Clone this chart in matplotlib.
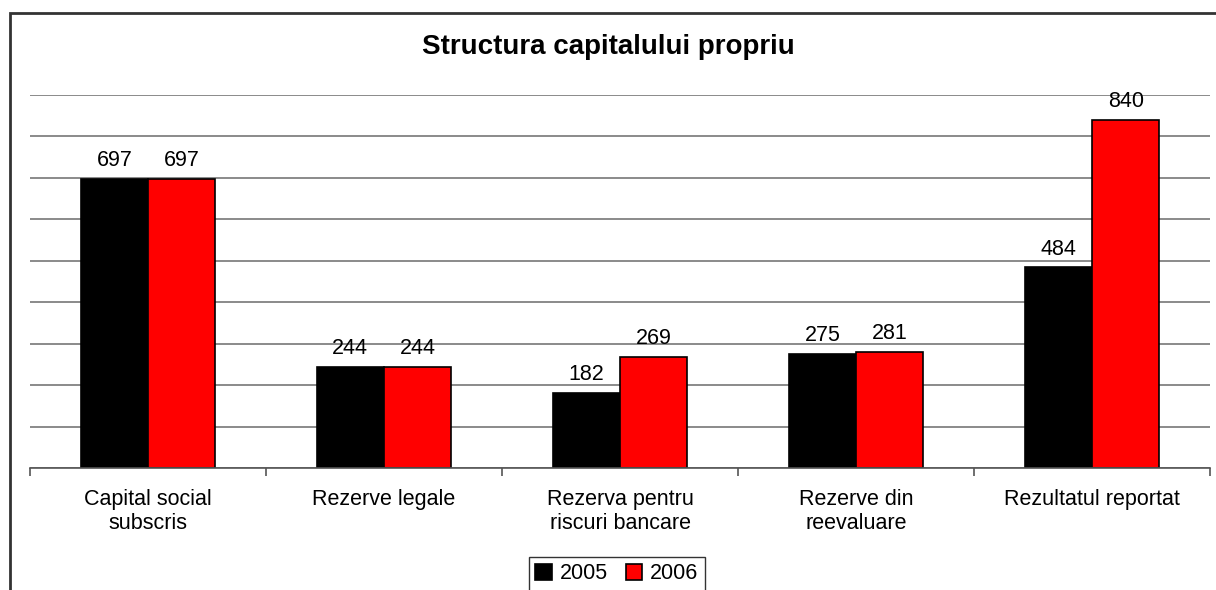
import matplotlib
matplotlib.use("Agg")
import matplotlib.pyplot as plt
from matplotlib.patches import Rectangle
import numpy as np

plt.rcParams['font.family'] = ['Liberation Sans', 'DejaVu Sans']

categories = ["Capital social\nsubscris", "Rezerve legale", "Rezerva pentru\nriscuri bancare",
              "Rezerve din\nreevaluare", "Rezultatul reportat"]
series_names = ["2005", "2006"]
values_2005 = [697, 244, 182, 275, 484]
values_2006 = [697, 244, 269, 281, 840]
colors = ["#000000", "#FF0000"]

W, H = 1216, 590
fig = plt.figure(figsize=(W / 100, H / 100), dpi=100)
ax = fig.add_axes([30 / W, 1 - 468 / H, (1210 - 30) / W, (468 - 95) / H])

x = np.arange(len(categories))
bw = 0.285
b1 = ax.bar(x - bw / 2, values_2005, bw, color=colors[0], edgecolor="black", linewidth=1.2,
            label=series_names[0], zorder=3)
b2 = ax.bar(x + bw / 2, values_2006, bw, color=colors[1], edgecolor="black", linewidth=1.2,
            label=series_names[1], zorder=3)
for bars in (b1, b2):
    for r in bars:
        ax.annotate(f"{int(r.get_height())}", (r.get_x() + r.get_width() / 2, r.get_height()),
                    xytext=(0, 5.5), textcoords="offset points", ha="center", va="bottom",
                    fontsize=15.5, color="black")

ax.set_xlim(-0.5, len(categories) - 0.5)
ax.set_ylim(0, 900)
ax.set_yticks(np.arange(0, 901, 100))
ax.yaxis.grid(True, color="#777777", linewidth=1.2, zorder=0)
ax.tick_params(axis="y", left=False, labelleft=False)
for s in ("left", "right", "top"):
    ax.spines[s].set_visible(False)
ax.spines["bottom"].set_color("#555555")
ax.spines["bottom"].set_linewidth(1.2)
ax.spines["bottom"].set_zorder(4)

ax.set_xticks(x)
ax.set_xticklabels(categories, fontsize=15.5, linespacing=1.2)
ax.tick_params(axis="x", length=0, pad=15)
ax.set_xticks(np.arange(-0.5, len(categories), 1), minor=True)
ax.tick_params(axis="x", which="minor", length=6, width=1.2, color="#555555", direction="out")

fig.text(0.5, 1 - 47 / H, "Structura capitalului propriu", ha="center", va="center",
         fontsize=20, fontweight="bold")

leg = fig.legend(loc="upper center", bbox_to_anchor=(617 / W, 1 - 557 / H), ncol=2,
                 fontsize=15.5, frameon=True, fancybox=False, edgecolor="black",
                 handlelength=0.75, handleheight=0.75, handletextpad=0.4, columnspacing=0.8,
                 borderpad=0.3, borderaxespad=0)
leg.get_frame().set_linewidth(1.0)

fig.add_artist(Rectangle((10 / W, -0.05), 1.1, 1 - 13 / H + 0.05, transform=fig.transFigure,
                         fill=False, edgecolor="#333333", linewidth=2, clip_on=False))

fig.savefig("out.png", dpi=100)
